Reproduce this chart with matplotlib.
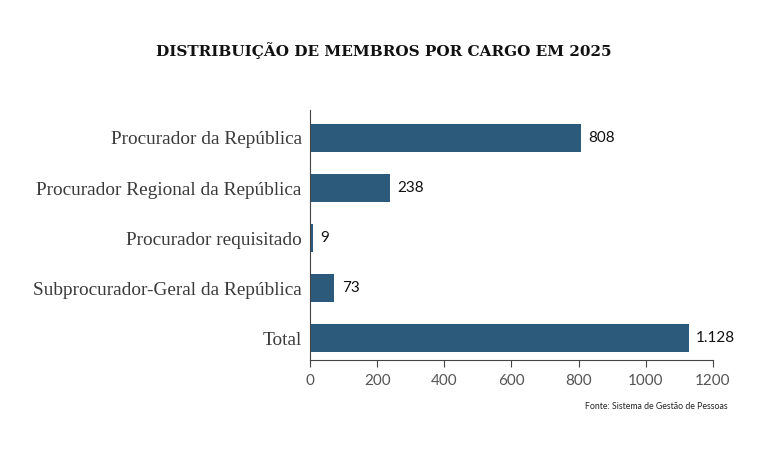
"""
Bar chart of members per position
"""

import matplotlib.pyplot as plt

# Data
cargos = [
    'Procurador da República',
    'Procurador Regional da República',
    'Procurador requisitado',
    'Subprocurador-Geral da República',
    'Total',
]
membros = [808, 238, 9, 73, 1128]
rotulos = ['808', '238', '9', '73', '1.128']
ticks_x = [0, 200, 400, 600, 800, 1000, 1200]

fig = plt.figure(figsize=(7.68, 4.61), dpi=100)
ax = fig.add_axes([0.4036, 0.219, 0.5248, 0.5424])

y = range(len(cargos))
ax.barh(y, membros, height=0.56, color='#2c5a7a')
ax.set_ylim(4.44, -0.56)
ax.set_xlim(0, 1200)

ax.set_yticks(list(y))
ax.set_yticklabels(cargos, fontfamily='Liberation Serif', fontsize=13.9,
                   color='#3a3a3a')
ax.tick_params(axis='y', length=0, pad=6)

ax.set_xticks(ticks_x)
ax.set_xticklabels([str(t) for t in ticks_x], fontfamily='Lato',
                   fontsize=11, color='#555555')
ax.tick_params(axis='x', length=5, width=0.8, color='#444444', pad=5)

for s in ['top', 'right']:
    ax.spines[s].set_visible(False)
for s in ['left', 'bottom']:
    ax.spines[s].set_color('#444444')
    ax.spines[s].set_linewidth(0.8)

# Value labels
for i, (v, r) in enumerate(zip(membros, rotulos)):
    ax.text(v + 22, i, r, va='center', ha='left', fontfamily='Lato',
            fontsize=11, color='#111111')

fig.text(0.5, 0.89, 'DISTRIBUIÇÃO DE MEMBROS POR CARGO EM 2025',
         ha='center', va='center', fontfamily='DejaVu Serif',
         fontweight='bold', fontsize=11, color='#111111')
fig.text(0.948, 0.118, 'Fonte: Sistema de Gestão de Pessoas', ha='right',
         va='center', fontfamily='Lato', fontsize=6.3, color='#222222')

fig.savefig('out.png', dpi=100)
